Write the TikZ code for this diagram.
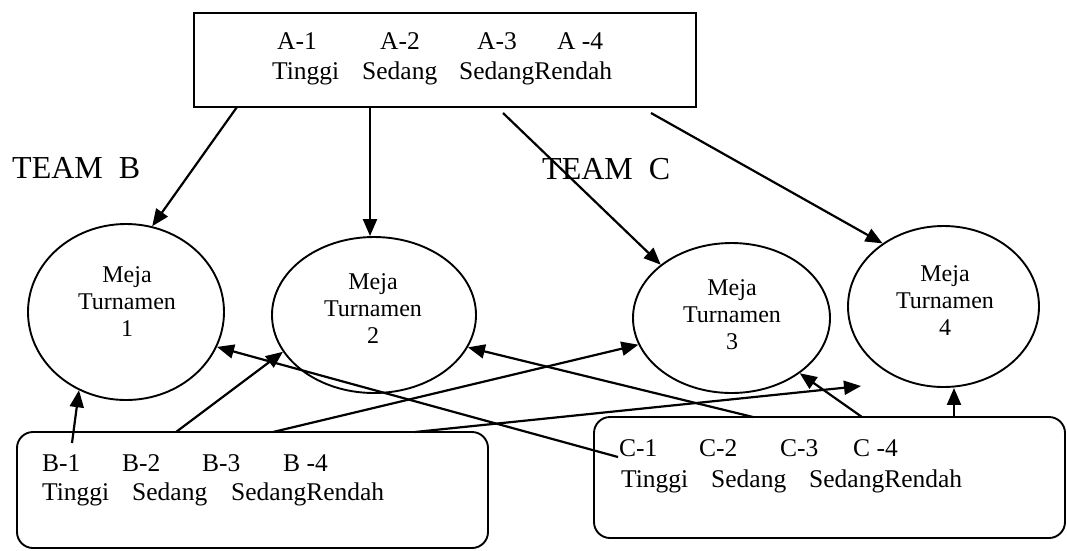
\documentclass[tikz,border=0pt]{standalone}
\usepackage{fontspec}
\setmainfont{Liberation Serif}
\usetikzlibrary{shapes.geometric,arrows.meta,calc}
\tikzset{
  arr/.style={line width=2.2pt,-{Triangle[length=17pt,width=14pt]}},
  meja/.style={ellipse,draw,line width=1.9pt,inner sep=0pt},
  sqbox/.style={draw,line width=1.9pt,inner sep=0pt},
  rbox/.style={draw,line width=1.9pt,inner sep=0pt,rounded corners=16pt},
  btext/.style={anchor=base west,inner sep=0pt,font=\fontsize{25.5}{30}\selectfont},
  mtext/.style={align=center,anchor=base,inner sep=0pt,font=\fontsize{24}{27}\selectfont},
  team/.style={anchor=base west,inner sep=0pt,font=\fontsize{32}{38}\selectfont}
}
\begin{document}
\begin{tikzpicture}[x=1pt,y=-1pt]
\useasboundingbox (0,0) rectangle (1067,550);
% boxes
\node[sqbox,minimum width=502pt,minimum height=94pt] (bA) at (445,60) {};
\node[rbox,minimum width=471pt,minimum height=116pt] (bB) at (252.5,490) {};
\node[rbox,minimum width=471pt,minimum height=121pt] (bC) at (829.5,477.5) {};
% box texts
\node[btext] (tA1) at (277,49) {\makebox[103pt][l]{A-1}\makebox[97pt][l]{A-2}\makebox[80pt][l]{A-3}A -4};
\node[btext] (tA2) at (272,79) {\makebox[90pt][l]{Tinggi}\makebox[97pt][l]{Sedang}SedangRendah};
\node[btext] (tB1) at (42,471) {\makebox[80pt][l]{B-1}\makebox[80pt][l]{B-2}\makebox[81pt][l]{B-3}B -4};
\node[btext] (tB2) at (42,500) {\makebox[90pt][l]{Tinggi}\makebox[99pt][l]{Sedang}SedangRendah};
\node[btext] (tC1) at (619,456) {\makebox[80pt][l]{C-1}\makebox[81pt][l]{C-2}\makebox[73pt][l]{C-3}C -4};
\node[btext] (tC2) at (621,487) {\makebox[90pt][l]{Tinggi}\makebox[98pt][l]{Sedang}SedangRendah};
% team labels
\node[team] (teamB) at (12,178) {TEAM\ \ B};
\node[team] (teamC) at (542,179) {TEAM\ \ C};
% tables
\node[meja,minimum width=196pt,minimum height=176pt] (m1) at (126,312) {};
\node[meja,minimum width=204pt,minimum height=156pt] (m2) at (374,315) {};
\node[meja,minimum width=197pt,minimum height=150pt] (m3) at (731.5,318) {};
\node[meja,minimum width=191pt,minimum height=161pt] (m4) at (943.5,306.5) {};
\node[mtext] (l1) at (127,336) {Meja\\Turnamen\\1};
\node[mtext] (l2) at (373,343) {Meja\\Turnamen\\2};
\node[mtext] (l3) at (732,349) {Meja\\Turnamen\\3};
\node[mtext] (l4) at (945,335) {Meja\\Turnamen\\4};
% connector end points
\coordinate (a1) at (237,107);
\coordinate (a2) at (370,107);
\coordinate (a3) at (503,113);
\coordinate (a4) at (651,113);
\coordinate (b1) at (72,443);
\coordinate (b2) at (176,432);
\coordinate (b3) at (273,432);
\coordinate (b4) at (415,432);
\coordinate (t4) at (861,386);
\coordinate (c1) at (618,457);
\coordinate (c2) at (753,417);
\coordinate (c3) at (862,417);
\coordinate (c4) at (954,417);
% connectors
\draw[arr] (a1) -- (m1.73.4);
\draw[arr] (a2) -- (a2 |- m2.north);
\draw[arr] (a3) -- (m3.143.7);
\draw[arr] (a4) -- (m4.134.6);
\draw[arr] (b1) -- (m1.239.8);
\draw[arr] (b2) -- (m2.202.6);
\draw[arr] (b3) -- (m3.196.9);
\draw[arr] (b4) -- (t4);
\draw[arr] (c1) -- (m1.339.7);
\draw[arr] (c2) -- (m2.341.7);
\draw[arr] (c3) -- (m3.321.8);
\draw[arr] (c4) -- (c4 |- m4.south);
\end{tikzpicture}
\end{document}
